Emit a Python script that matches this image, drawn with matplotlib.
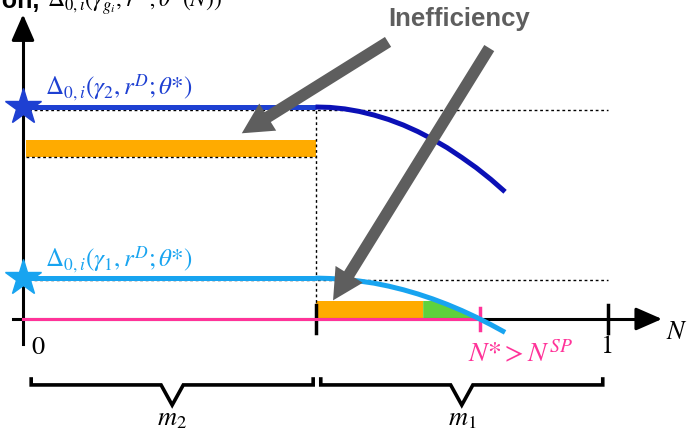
import matplotlib
matplotlib.use("Agg")
import matplotlib.pyplot as plt

plt.rcParams["mathtext.fontset"] = "stix"
plt.rcParams["font.family"] = ["STIXGeneral", "DejaVu Sans"]

# N from 0 to 1, y scaled so that gamma_2 level = 1
m_split = 0.5          # boundary between m2 and m1
n_star = 0.781         # N* (where gamma_1 curve hits zero)
n_green = 0.684        # start of green region
level_g2 = 1.0
level_g1 = 0.193

# declining parts of both curves
curve_N = [0.5, 0.525, 0.55, 0.575, 0.6, 0.625, 0.65, 0.675, 0.7, 0.725, 0.75, 0.775, 0.8, 0.824]
curve_g2 = [1.0, 0.998, 0.991, 0.979, 0.962, 0.941, 0.915, 0.884, 0.848, 0.808, 0.762, 0.713,
            0.658, 0.60]
curve_g1 = [0.193, 0.191, 0.187, 0.179, 0.169, 0.155, 0.138, 0.118, 0.095, 0.069, 0.040, 0.008,
            -0.027, -0.063]

# inefficiency areas
orange_m2_N = [0.005, 0.5]
orange_m2_y = (0.764, 0.844)
orange_m1_N = [0.5, n_green]
orange_m1_top = 0.085
green_N = [0.684, 0.684, 0.710, 0.725, 0.75, 0.775, 0.781]
green_y = [0.0, 0.085, 0.085, 0.069, 0.040, 0.008, 0.0]

# arrows (tail -> tip)
arrow_tails = [(0.624, 1.307), (0.797, 1.278)]
arrow_tips = [(0.374, 0.876), (0.530, 0.088)]

# braces under the axis
braces = [(0.014, 0.496, "$m_2$"), (0.509, 0.991, "$m_1$")]

c_dark = "#0b10b6"
c_blue = "#1e40d2"
c_light = "#18a4f0"
c_orange = "#ffab00"
c_green = "#5ed23c"
c_pink = "#ff3399"
c_gray = "#5e5e5e"

fig = plt.figure(figsize=(6.87, 4.30), dpi=100)
ax = fig.add_axes([0, 0, 1, 1])
ax.set_xlim(-0.0393, 1.135)
ax.set_ylim(-0.5236, 1.5047)
ax.axis("off")

dots = (0, (2, 2))

# filled areas
ax.fill_between(orange_m2_N, orange_m2_y[0], orange_m2_y[1], color=c_orange, lw=0, zorder=1)
ax.plot(orange_m2_N, [orange_m2_y[0]] * 2, color="black", ls=dots, lw=1.0, zorder=2)
ax.fill_between(orange_m1_N, 0, orange_m1_top, color=c_orange, lw=0, zorder=1)
ax.fill(green_N, green_y, color=c_green, lw=0, zorder=1)

# dotted guide lines
ax.plot([0, 1.0], [level_g2 - 0.012, level_g2 - 0.012], color="black", ls=dots, lw=1.0, zorder=2)
ax.plot([0, 1.0], [level_g1 - 0.008, level_g1 - 0.008], color="black", ls=dots, lw=1.0, zorder=2)
ax.plot([m_split, m_split], [0, level_g2], color="black", ls=dots, lw=1.0, zorder=2)

# axes
ax.plot([-0.017, 1.07], [0, 0], color="black", lw=2.2, zorder=3)
ax.plot([0, 0], [-0.12, 1.40], color="black", lw=2.2, zorder=3)
head = "-|>,head_width=0.35,head_length=0.8"
ax.annotate("", xy=(1.097, 0), xytext=(1.05, 0),
            arrowprops=dict(arrowstyle=head, color="black", lw=2.2, mutation_scale=20), zorder=3)
ax.annotate("", xy=(0, 1.45), xytext=(0, 1.35),
            arrowprops=dict(arrowstyle=head, color="black", lw=2.2, mutation_scale=20), zorder=3)
for xt in [m_split, 1.0]:
    ax.plot([xt, xt], [-0.066, 0.066], color="black", lw=2.5, zorder=3)

# pink equilibrium line
ax.plot([0, n_star], [0, 0], color=c_pink, lw=2.2, zorder=4)
ax.plot([n_star, n_star], [-0.05, 0.05], color=c_pink, lw=2.5, zorder=4)

# curves
ax.plot([0, m_split], [level_g2, level_g2], color=c_blue, lw=3.6, zorder=5, solid_capstyle="butt")
ax.plot(curve_N, curve_g2, color=c_dark, lw=3.6, zorder=5, solid_capstyle="butt")
ax.plot([0, m_split], [level_g1, level_g1], color=c_light, lw=3.6, zorder=5, solid_capstyle="butt")
ax.plot(curve_N, curve_g1, color=c_light, lw=3.6, zorder=5, solid_capstyle="butt")
ax.plot([0], [level_g2], marker="*", ms=27, color=c_blue, mec=c_blue, zorder=6, clip_on=False)
ax.plot([0], [level_g1], marker="*", ms=27, color=c_light, mec=c_light, zorder=6, clip_on=False)

# arrows
for tail, tip in zip(arrow_tails, arrow_tips):
    ax.annotate("", xy=tip, xytext=tail,
                arrowprops=dict(arrowstyle="simple,head_length=1.1,head_width=1.15,tail_width=0.42",
                                color=c_gray, lw=0, mutation_scale=20, shrinkA=0, shrinkB=0),
                zorder=7)
ax.text(0.745, 1.415, "Inefficiency", family="Liberation Sans", weight="bold", fontsize=18.5,
        color=c_gray, ha="center", va="center", zorder=8)

# braces
for x0, x1, lab in braces:
    xm = (x0 + x1) / 2
    ax.plot([x0, x0, xm - 0.019, xm, xm + 0.019, x1, x1],
            [-0.283, -0.311, -0.311, -0.406, -0.311, -0.311, -0.283],
            color="black", lw=2.6, solid_joinstyle="miter", zorder=3)
    ax.text(xm, -0.475, lab, fontsize=19, ha="center", va="center")

# labels
ax.text(0.037, 1.061, r"$\Delta_{0,i}(\gamma_2, r^D; \theta{*})$", color=c_blue, fontsize=18,
        ha="left", va="baseline")
ax.text(0.037, 0.250, r"$\Delta_{0,i}(\gamma_1, r^D; \theta{*})$", color=c_light, fontsize=18,
        ha="left", va="baseline")
ax.text(0.025, -0.137, "0", fontsize=19, ha="center", va="center")
ax.text(0.998, -0.132, "1", fontsize=19, ha="center", va="center")
ax.text(1.118, -0.068, "$N$", fontsize=19, ha="center", va="center")
ax.text(0.85, -0.165, r"$N{*} > N^{SP}$", color=c_pink, fontsize=20, ha="center", va="center")

# title cut off at the top
ax.text(0.029, 1.467, "Function,", family="Liberation Sans", weight="bold", fontsize=18,
        ha="right", va="baseline")
ax.text(0.041, 1.467, r"$\Delta_{0,i}(\gamma_{g_i}, r^D; \theta{*}(N))$", fontsize=17,
        ha="left", va="baseline")

fig.savefig("out.png", dpi=100)
